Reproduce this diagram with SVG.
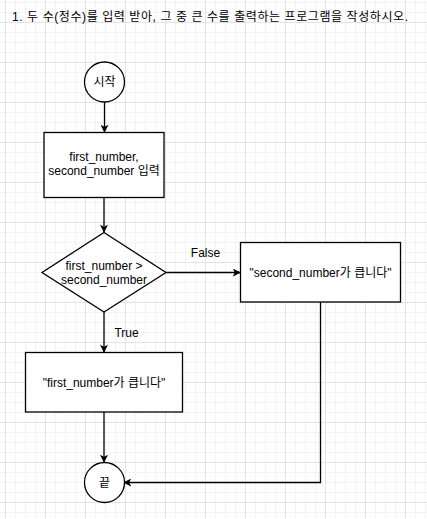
<svg xmlns="http://www.w3.org/2000/svg" width="427" height="519" viewBox="0 0 427 519">
<style>
.t{font-family:"Liberation Sans","Noto Sans CJK KR",sans-serif;font-size:12px;fill:#000;text-anchor:middle;dominant-baseline:central}
.shape{fill:#fff;stroke:#000;stroke-width:1.3}
.edge{fill:none;stroke:#000;stroke-width:1.3}
</style>
<defs>
<pattern id="grid" x="5" y="22" width="40" height="40" patternUnits="userSpaceOnUse">
<rect x="0" y="0" width="40" height="40" fill="#fff"/>
<g fill="#f3f3f3">
<rect x="10" y="0" width="1" height="40"/><rect x="20" y="0" width="1" height="40"/><rect x="30" y="0" width="1" height="40"/>
<rect x="0" y="10" width="40" height="1"/><rect x="0" y="20" width="40" height="1"/><rect x="0" y="30" width="40" height="1"/>
</g>
<g fill="#e3e3e3">
<rect x="0" y="0" width="1" height="40"/><rect x="0" y="0" width="40" height="1"/>
</g>
</pattern>
<marker id="arr" viewBox="0 0 10 10" refX="9" refY="5" markerWidth="8" markerHeight="8" markerUnits="userSpaceOnUse" orient="auto">
<path d="M0,0 L10,5 L0,10 L2.5,5 z" fill="#000"/>
</marker>
</defs>
<rect width="427" height="519" fill="url(#grid)"/>
<text x="12" y="17" style="font-family:'Liberation Sans','Noto Sans CJK KR',sans-serif;font-size:12px;dominant-baseline:central" textLength="396" lengthAdjust="spacing">1. 두 수(정수)를 입력 받아, 그 중 큰 수를 출력하는 프로그램을 작성하시오.</text>
<g id="edges">
<path class="edge" d="M104.5,102 L104.5,132" marker-end="url(#arr)"/>
<path class="edge" d="M104,197 L104,232" marker-end="url(#arr)"/>
<path class="edge" d="M166,272.5 L240,272.5" marker-end="url(#arr)"/>
<path class="edge" d="M104,312 L104,352" marker-end="url(#arr)"/>
<path class="edge" d="M320.5,302 L320.5,482.5 L124,482.5" marker-end="url(#arr)"/>
<path class="edge" d="M104,412 L104,462" marker-end="url(#arr)"/>
<text class="t" x="205.5" y="253">False</text>
<text class="t" x="126.5" y="333">True</text>
</g>
<g id="start">
<circle class="shape" cx="104.5" cy="82" r="20"/>
<text class="t" x="104.5" y="82">시작</text>
</g>
<g id="input">
<rect class="shape" x="44" y="132.5" width="120" height="65"/>
<text class="t" x="104" y="157">first_number,</text>
<text class="t" x="104" y="171">second_number 입력</text>
</g>
<g id="decision">
<polygon class="shape" points="104,232.5 166,272.5 104,312 42,272.5"/>
<text class="t" x="104" y="266">first_number &gt;</text>
<text class="t" x="104" y="280">second_number</text>
</g>
<g id="second">
<rect class="shape" x="240.5" y="242.5" width="160" height="59.5"/>
<text class="t" x="320.5" y="272.5">"second_number가 큽니다"</text>
</g>
<g id="first">
<rect class="shape" x="25.5" y="352.5" width="157" height="59.5"/>
<text class="t" x="104" y="382.5">"first_number가 큽니다"</text>
</g>
<g id="end">
<circle class="shape" cx="104.5" cy="482.5" r="20"/>
<text class="t" x="104.5" y="482.5">끝</text>
</g>
</svg>
